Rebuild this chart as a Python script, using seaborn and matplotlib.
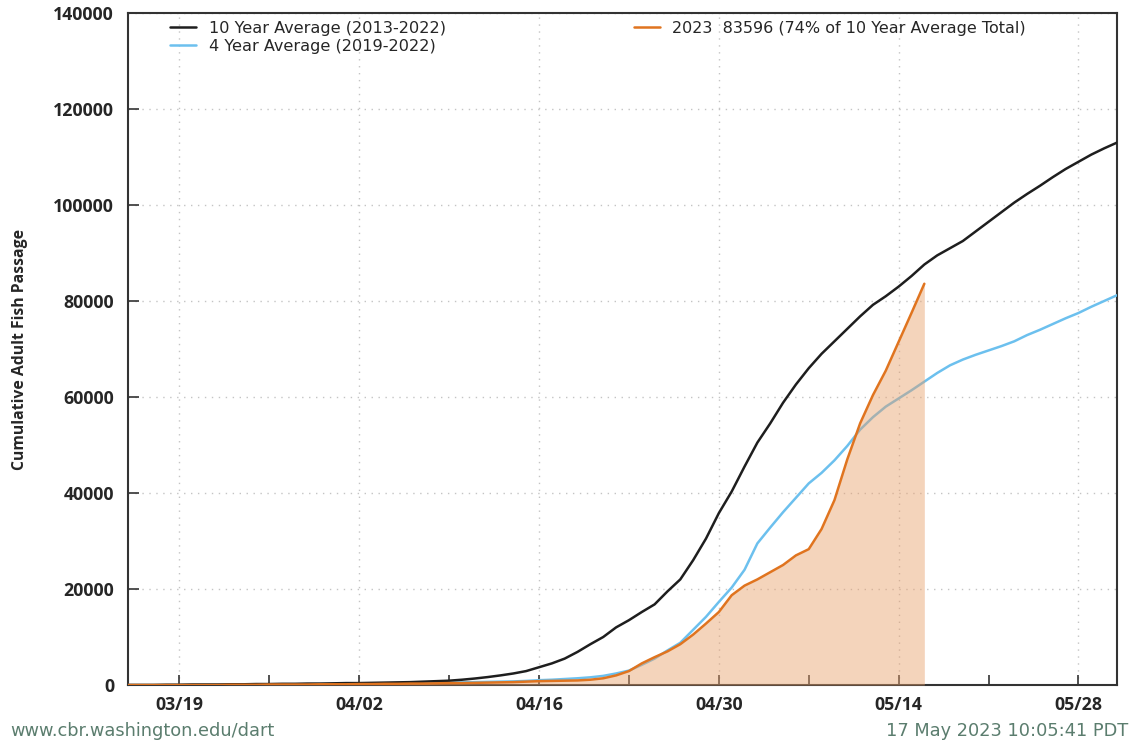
import numpy as np
import pandas as pd
import matplotlib
matplotlib.use("Agg")
import matplotlib.pyplot as plt
import matplotlib.dates as mdates
import seaborn as sns

start_date = "2023-03-15"
avg10 = [0, 0, 0, 50, 50, 100, 100, 100, 150, 150, 200,
         200, 250, 250, 300, 300, 350, 400, 400, 450, 500,
         550, 600, 700, 800, 900, 1100, 1350,
         1650, 2000, 2400, 2900, 3700, 4500, 5500, 6900, 8500, 10000, 12000, 13500,
         15200, 16800, 19500, 22000, 26000, 30500, 35800, 40300, 45500, 50500,
         54500, 58800, 62600, 66000, 69000, 71600, 74200, 76800, 79200, 81000,
         83000, 85200, 87600, 89500, 91000, 92500, 94500, 96500, 98500, 100500,
         102300, 104000, 105800, 107500, 109000, 110500, 111800, 113000]
avg4 = [0, 0, 0, 0, 0, 50, 50, 50, 50, 100, 100, 100, 150, 150, 150, 200, 200, 250, 250, 300, 300,
        350, 400, 400, 450, 500, 550, 600, 650, 700, 750, 850,
        1000, 1100, 1250, 1400, 1600, 1900, 2400, 3000, 4200, 5500, 7200, 8800, 11500, 14200,
        17300, 20300, 24000, 29500, 32800, 36000, 39000, 42000, 44200, 46800, 49800, 53200,
        55800, 58000, 59700, 61400, 63200, 65000, 66600, 67800, 68800, 69700, 70600, 71600,
        72900, 74000, 75200, 76400, 77500, 78800, 80000, 81200]
y2023 = [0, 0, 0, 0, 0, 0, 0, 0, 50, 50, 50, 100, 100, 100, 100, 150, 150, 150, 200, 200, 250,
         250, 300, 300, 350, 400, 400, 450, 500, 550, 600, 700,
         800, 850, 900, 950, 1100, 1400, 2000, 2900, 4500, 5800, 7000, 8500, 10500, 12800,
         15200, 18700, 20700, 22000, 23500, 25000, 27000, 28300, 32500, 38500, 47000, 54500,
         60400, 65500, 71500, 77500, 83596]

label10 = "10 Year Average (2013-2022)"
label4 = "4 Year Average (2019-2022)"
label23 = "2023  83596 (74% of 10 Year Average Total)"
ylabel = "Cumulative Adult Fish Passage"
footer_left = "www.cbr.washington.edu/dart"
footer_right = "17 May 2023 10:05:41 PDT"

dates_avg = pd.date_range(start_date, periods=len(avg10), freq="D")
dates_23 = pd.date_range(start_date, periods=len(y2023), freq="D")
df10 = pd.DataFrame({"date": dates_avg, "value": avg10})
df4 = pd.DataFrame({"date": dates_avg, "value": avg4})
df23 = pd.DataFrame({"date": dates_23, "value": y2023})

sns.set_style("white")
plt.rcParams["font.family"] = ["DejaVu Sans"]

fig = plt.figure(figsize=(11.35, 7.44), dpi=100)
ax = fig.add_axes([128 / 1135, 1 - 685 / 744, (1117 - 128) / 1135, (685 - 13) / 744])

c_black = "#1e1e1e"
c_blue = "#6cc0ee"
c_orange = "#e0741f"

sns.lineplot(data=df4, x="date", y="value", ax=ax, color=c_blue, linewidth=1.8, label=label4, zorder=3)
ax.fill_between(df23["date"], 0, df23["value"], color="#e8a06a", alpha=0.45, linewidth=0, zorder=4)
sns.lineplot(data=df10, x="date", y="value", ax=ax, color=c_black, linewidth=1.8, label=label10, zorder=5)
sns.lineplot(data=df23, x="date", y="value", ax=ax, color=c_orange, linewidth=1.8, label=label23, zorder=6)

ax.set_xlim(pd.Timestamp("2023-03-15"), pd.Timestamp("2023-05-31"))
ax.set_ylim(0, 140000)
ax.set_yticks(np.arange(0, 140001, 20000))
major = pd.date_range("2023-03-19", "2023-05-31", freq="14D")
minor = pd.date_range("2023-03-26", "2023-05-31", freq="14D")
ax.set_xticks(major)
ax.set_xticks(minor, minor=True)
ax.xaxis.set_major_formatter(mdates.DateFormatter("%m/%d"))

ax.grid(True, which="major", linestyle=(0, (1, 4)), color="#c4c4c4", linewidth=1.0)
ax.set_axisbelow(True)
ax.set_xlabel("")
ax.set_ylabel(ylabel, fontsize=11.3, fontweight="bold", family="Open Sans", labelpad=18)

for lab in ax.get_xticklabels() + ax.get_yticklabels():
    lab.set_fontfamily("Open Sans")
    lab.set_fontweight("bold")
    lab.set_fontsize(12.8)
ax.tick_params(axis="x", which="both", direction="in", length=7, width=1.2, color="#333333", pad=8, bottom=True)
ax.tick_params(axis="y", which="major", direction="in", length=8, width=1.2, color="#333333", pad=10, left=True)
for sp in ax.spines.values():
    sp.set_color("#333333")
    sp.set_linewidth(1.5)
    sp.set_visible(True)

handles, labels = ax.get_legend_handles_labels()
hmap = dict(zip(labels, handles))
leg1 = ax.legend([hmap[label10], hmap[label4]], [label10, label4], loc="upper left",
                 bbox_to_anchor=(0.033, 1.003), frameon=False, fontsize=11.6,
                 handlelength=1.6, handletextpad=0.8, labelspacing=0.2, borderaxespad=0.2)
ax.add_artist(leg1)
leg2 = ax.legend([hmap[label23]], [label23], loc="upper left",
                 bbox_to_anchor=(0.502, 1.003), frameon=False, fontsize=11.5,
                 handlelength=1.6, handletextpad=0.8, borderaxespad=0.2)

fig.text(10 / 1135, 1 - 731 / 744, footer_left, fontsize=12.8, color="#5b7d6e", va="center", ha="left")
fig.text(1128 / 1135, 1 - 731 / 744, footer_right, fontsize=12.8, color="#5b7d6e", va="center", ha="right")

fig.savefig("out.png", dpi=100)
